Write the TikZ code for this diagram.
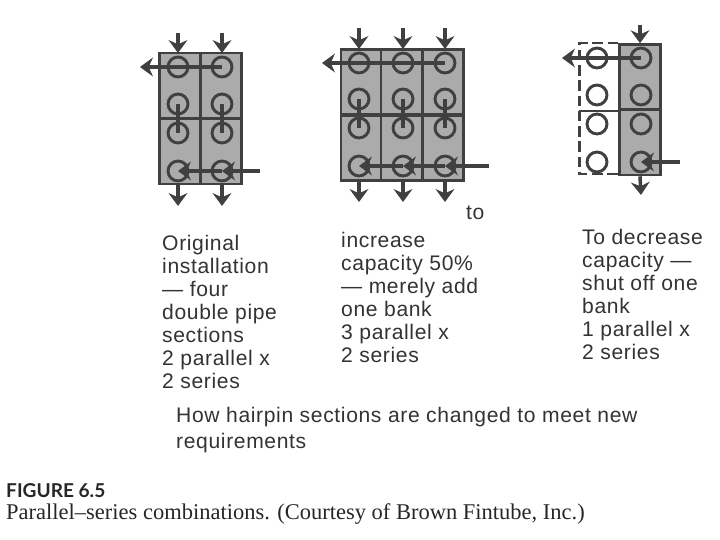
\documentclass[tikz,border=0pt]{standalone}
\usepackage{fontspec}
\setmainfont{Liberation Sans}[LetterSpace=3]
\newfontfamily\capfont{Liberation Serif}
\newfontfamily\figfont{Lato}
\usetikzlibrary{arrows.meta,positioning}
\definecolor{ink}{gray}{0.25}
\tikzset{
  cell/.style = {draw=ink, fill=black!33, line width=2.2pt, minimum width=35pt, minimum height=55.5pt, inner sep=0pt},
  tube/.style = {draw=ink, line width=2.5pt, circle, minimum size=17pt, inner sep=0pt},
  flow/.style = {draw=ink, line width=3pt, -{Stealth[length=11pt, width=16pt]}},
  hairpin/.style = {draw=ink, line width=3pt},
  note/.style = {text=black!80, align=left, anchor=north west, inner sep=0pt, font=\fontsize{18}{19.6}\selectfont},
  captext/.style = {text=black!85, anchor=west, inner sep=0pt, font=\capfont\fontsize{19.2}{20}\selectfont}
}

\begin{document}
\begin{tikzpicture}[x=0.03cm, y=-0.03cm]
  \useasboundingbox (0,0) rectangle (720,540);
  % two parallel, two series
  \foreach \c/\x in {1/180,2/221} \foreach \r/\y in {1/85.5,2/151.5}
    \node[cell] (a\c\r) at (\x,\y) {};
  \foreach \c/\x in {1/178,2/222} {
    \foreach \r/\y in {1/67,2/104,3/133,4/171}
      \node[tube] (at\c\r) at (\x,\y) {};
    \coordinate (ai\c) at (\x,33);
    \coordinate (ae\c) at (\x,206);
    \draw[flow] (ai\c) -- (\x,53);
    \draw[flow] (\x,185) -- (ae\c);
    \draw[hairpin] (at\c2.center) -- (at\c3.center);
  }
  \coordinate (aout) at (140,67);
  \coordinate (ain) at (260,171);
  \draw[flow] (at21.center) -- (aout);
  \draw[flow] (ain) -- (at24.center);
  \draw[flow] (at24.center) -- (at14.center);

  % three parallel, two series
  \foreach \c/\x in {1/361.5,2/401.5,3/443} \foreach \r/\y in {1/82,2/148}
    \node[cell] (b\c\r) at (\x,\y) {};
  \foreach \c/\x in {1/359,2/403,3/445} {
    \foreach \r/\y in {1/63,2/99,3/128,4/166}
      \node[tube] (bt\c\r) at (\x,\y) {};
    \coordinate (bi\c) at (\x,28);
    \coordinate (be\c) at (\x,202);
    \draw[flow] (bi\c) -- (\x,49);
    \draw[flow] (\x,181) -- (be\c);
    \draw[hairpin] (bt\c2.center) -- (bt\c3.center);
  }
  \coordinate (bout) at (322,63);
  \coordinate (bin) at (489,166);
  \draw[flow] (bt31.center) -- (bout);
  \draw[flow] (bin) -- (bt34.center);
  \draw[flow] (bt34.center) -- (bt24.center);
  \draw[flow] (bt24.center) -- (bt14.center);

  % one parallel, two series
  \node[cell] (c1) at (640,77) {};
  \node[cell] (c2) at (640,142.5) {};
  \draw[draw=ink, line width=2.2pt, dash pattern=on 9pt off 4pt]
    (c1.north west) -- ++(-39,0) -- ++(0,131) -- ++(39,0);
  \draw[draw=ink, line width=2.2pt] (c1.south west) -- ++(-39,0);
  \foreach \c/\x in {1/597,2/641}
    \foreach \r/\y in {1/58,2/95,3/124,4/162}
      \node[tube] (ct\c\r) at (\x,\y) {};
  \coordinate (ci) at (640,25);
  \coordinate (ce) at (641,195);
  \coordinate (cout) at (562,58);
  \coordinate (cin) at (680,162);
  \draw[flow] (ci) -- (c1.north);
  \draw[flow] (c2.south) -- (ce);
  \draw[flow] (ct21.center) -- (cout);
  \draw[flow] (cin) -- (ct24.center);

  % labels
  \node[note] (to) at (466,206) {to};
  \node[note] (n1) at (162,235) {Original\\installation\\--- four\\double pipe\\sections\\2 parallel x\\2 series};
  \node[note] (n2) at (341,232) {increase\\capacity 50\%\\--- merely add\\one bank\\3 parallel x\\2 series};
  \node[note] (n3) at (582,229) {To decrease\\capacity ---\\shut off one\\bank\\1 parallel x\\2 series};
  \node[note] (n4) at (176,407) {How hairpin sections are changed to meet new\\[2.5pt]requirements};
  \node[captext, font=\figfont\bfseries\fontsize{16.3}{18}\selectfont] (fig) at (6,491) {FIGURE 6.5};
  \node[captext] (src) at (6,514) {Parallel–series combinations. (Courtesy of Brown Fintube, Inc.)};
\end{tikzpicture}
\end{document}
